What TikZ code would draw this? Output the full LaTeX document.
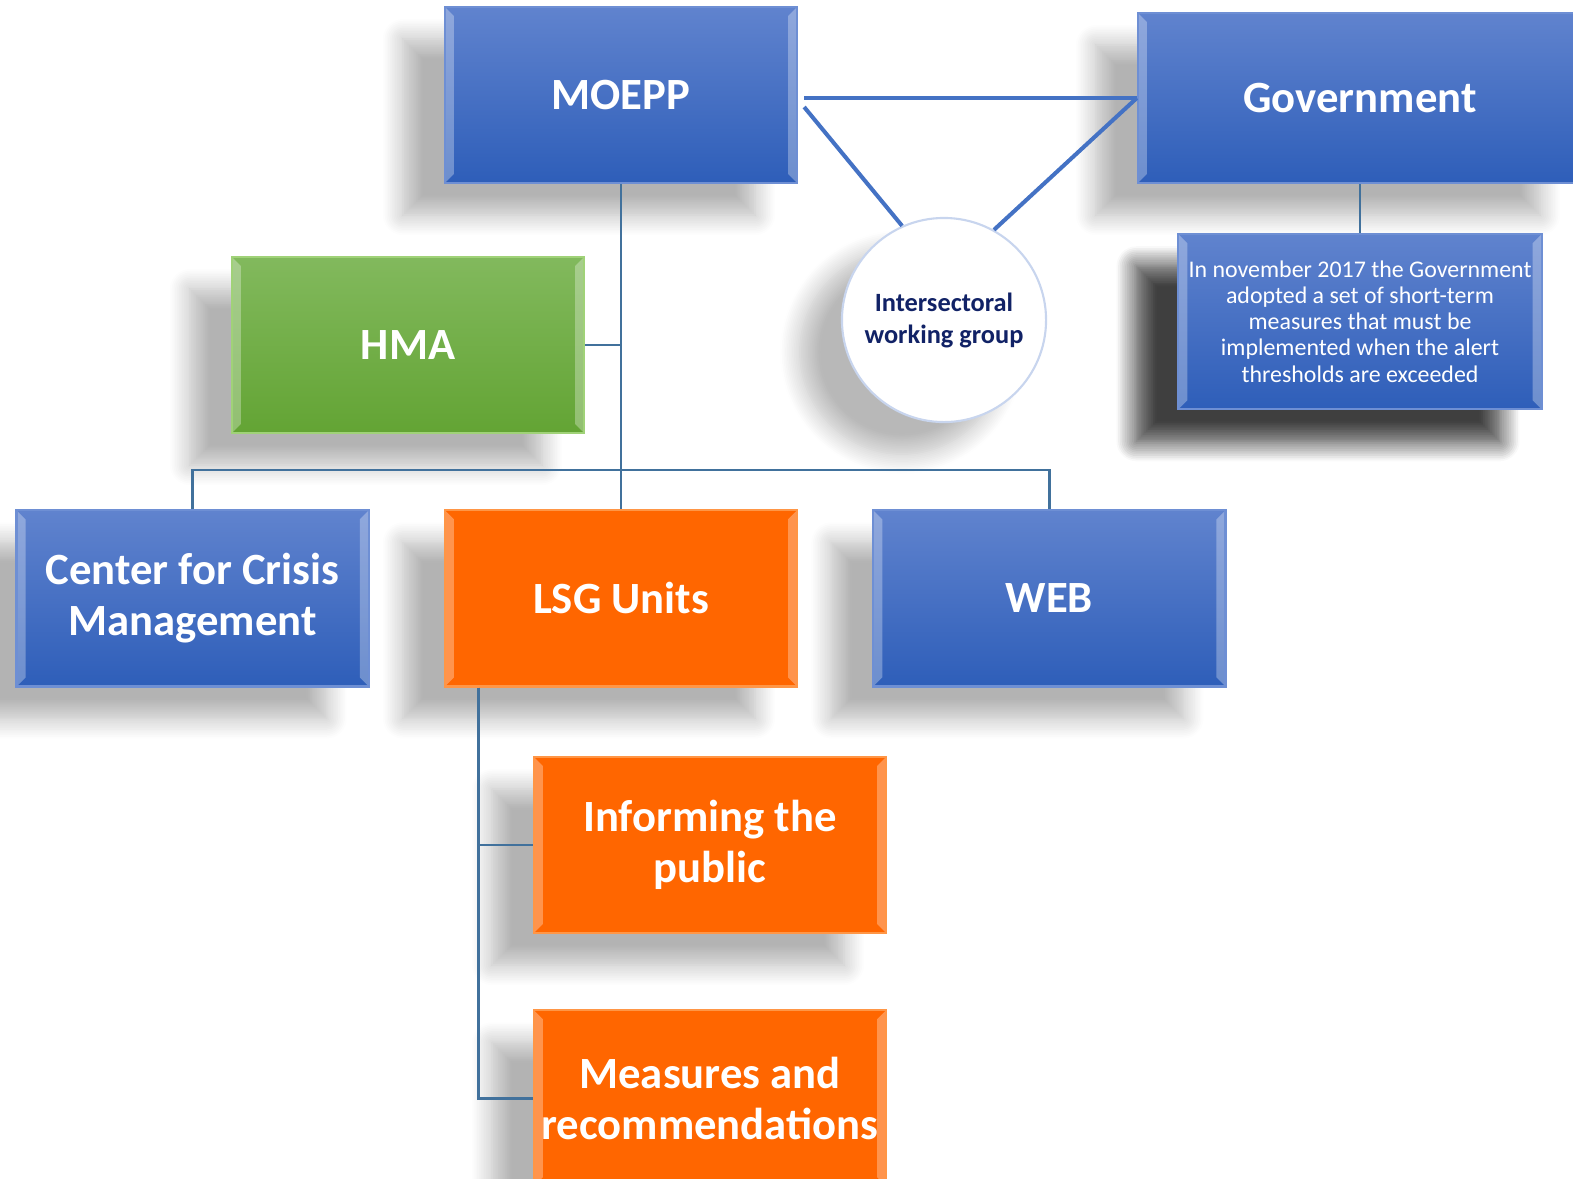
\documentclass[tikz,border=0pt]{standalone}
\usepackage{fontspec}
\setmainfont{Carlito}
\usetikzlibrary{positioning,shadows.blur}

\definecolor{bluetop}{RGB}{96,131,206}
\definecolor{bluebot}{RGB}{46,94,185}
\definecolor{blueedge}{RGB}{110,143,212}
\definecolor{greentop}{RGB}{130,185,93}
\definecolor{greenbot}{RGB}{99,164,52}
\definecolor{greenedge}{RGB}{160,210,120}
\definecolor{orangefill}{RGB}{255,102,0}
\definecolor{orangeedge}{RGB}{255,150,70}
\definecolor{navytext}{RGB}{17,34,102}
\definecolor{ringedge}{RGB}{200,213,238}
\definecolor{orgblue}{RGB}{65,113,156}
\definecolor{linkblue}{RGB}{68,114,196}

\tikzset{
  bevel/.style={path picture={
      \fill[white,opacity=.3] (path picture bounding box.north west) -- ++(9,9)
        -- ([shift={(9,-9)}]path picture bounding box.south west)
        -- (path picture bounding box.south west) -- cycle;
      \fill[white,opacity=.3] (path picture bounding box.north east) -- ++(-9,9)
        -- ([shift={(-9,-9)}]path picture bounding box.south east)
        -- (path picture bounding box.south east) -- cycle;
  }},
  softshadow/.style={blur shadow={shadow xshift=-4.2mm, shadow yshift=-3.2mm,
      shadow blur radius=2mm, shadow blur steps=12, shadow opacity=#1}},
  softshadow/.default=30,
  box/.style={rectangle, minimum width=3.52cm, minimum height=1.76cm,
      inner xsep=1pt, align=center, text=white, line width=.6pt,
      font=\fontsize{12.7}{14.5}\selectfont\bfseries, softshadow, bevel},
  bluebox/.style={box, top color=bluetop, bottom color=bluebot, draw=blueedge},
  greenbox/.style={box, top color=greentop, bottom color=greenbot, draw=greenedge},
  orangebox/.style={box, fill=orangefill, draw=orangeedge},
  orgline/.style={draw=orgblue, line width=.8pt},
  linkline/.style={draw=linkblue, line width=1.15pt},
}

\begin{document}
\begin{tikzpicture}[x=0.01cm, y=-0.01cm]
  \useasboundingbox (0,0) rectangle (1573,1178);

  \node[bluebox]                          (moepp) at (621,95) {MOEPP};
  \node[bluebox, minimum width=4.44cm,
        minimum height=1.70cm]            (gov) at (1360,98) {Government};
  \node[bluebox, minimum width=3.63cm, minimum height=1.75cm, inner xsep=0pt,
        font=\fontsize{6.8}{7.4}\selectfont,
        softshadow=50, below=0.49cm of gov] (govnote)
        {In november 2017 the Government\\adopted a set of short-term\\measures that must be\\implemented when the alert\\thresholds are exceeded};
  \node[circle, minimum size=2.04cm, fill=white, draw=ringedge, line width=.6pt,
        align=center, text=navytext, font=\fontsize{7.5}{9.1}\selectfont\bfseries,
        softshadow=28]                     (iwg) at (944,320) {Intersectoral\\working group};
  \node[greenbox]                          (hma) at (408,345) {HMA};
  \node[orangebox, below=3.25cm of moepp]  (lsg) {LSG Units};
  \node[bluebox, left=0.74cm of lsg]       (ccm) {Center for Crisis\\Management};
  \node[bluebox, right=0.74cm of lsg]      (web) {WEB};
  \node[orangebox]                         (info) at (710,845) {Informing the\\public};
  \node[orangebox, below=0.75cm of info]   (meas) {Measures and\\recommendations};

  \coordinate (bus) at (621,470);

  \draw[orgline] (moepp.south) -- (lsg.north);
  \draw[orgline] (hma.east) -- (hma.east -| moepp.south);
  \draw[orgline] (ccm.north) |- (bus) -| (web.north);
  \draw[orgline] ([xshift=3.5mm]lsg.south west) |- (info.west);
  \draw[orgline] ([xshift=3.5mm]lsg.south west) |- (meas.west);
  \draw[orgline] (gov.south) -- (govnote.north);

  \draw[linkline] ([xshift=.6mm]moepp.east |- gov.west) -- (gov.west);
  \draw[linkline] ([shift={(.6mm,-1.2mm)}]moepp.east) -- (iwg.114);
  \draw[linkline] (gov.west) -- (iwg.61);
\end{tikzpicture}
\end{document}
